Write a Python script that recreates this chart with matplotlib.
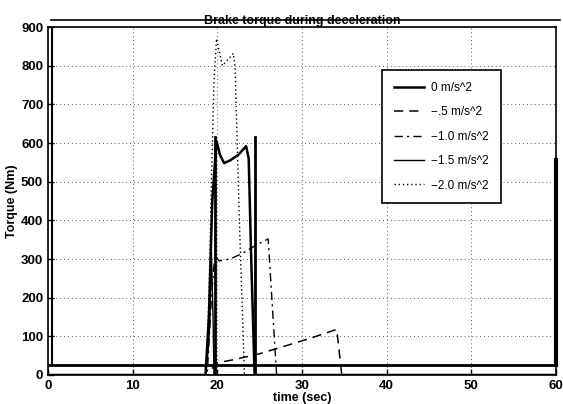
import matplotlib
matplotlib.use('Agg')
import matplotlib.pyplot as plt

plt.rcParams['font.family'] = ['Liberation Sans', 'DejaVu Sans']

# 0 m/s^2 (thick solid)
t_0 = [0, 18.6, 19.0, 19.4, 19.9, 20.3, 20.8, 21.5, 22.5, 23.4, 23.7, 24.0, 24.4, 60]
tq_0 = [0, 0, 150, 450, 605, 570, 548, 555, 570, 592, 560, 300, 0, 0]

# -.5 m/s^2 (dashed)
t_05 = [0, 19.0, 19.7, 22.0, 25.0, 28.0, 31.0, 34.1, 34.7, 60]
tq_05 = [0, 0, 30, 40, 55, 75, 95, 118, 0, 0]

# -1.0 m/s^2 (dash-dot)
t_10 = [0, 18.8, 19.3, 19.7, 20.2, 21.5, 23.0, 24.5, 26.0, 27.0, 60]
tq_10 = [0, 0, 200, 310, 295, 300, 315, 335, 352, 0, 0]

# -1.5 m/s^2 (thin solid)
t_15 = [0, 18.6, 18.9, 19.1, 19.3, 19.5, 19.6, 60]
tq_15 = [0, 0, 60, 130, 320, 140, 0, 0]

# -2.0 m/s^2 (dotted)
t_20 = [0, 18.7, 19.0, 19.3, 19.6, 19.9, 20.2, 20.6, 21.2, 21.9, 22.1, 22.6, 23.2, 60]
tq_20 = [0, 0, 200, 498, 760, 870, 840, 800, 815, 832, 790, 400, 0, 0]

labels = ['0 m/s^2', '\u2212.5 m/s^2', '\u22121.0 m/s^2', '\u22121.5 m/s^2', '\u22122.0 m/s^2']

# stray strokes on the scanned plot
spike_t = [19.7, 24.5]
spike_top = 615
base_level = 25

xticks = [0, 10, 20, 30, 40, 50, 60]
yticks = [0, 100, 200, 300, 400, 500, 600, 700, 800, 900]

fig = plt.figure(figsize=(5.63, 4.04), dpi=100)
ax = fig.add_axes([0.0853, 0.0718, 0.9023, 0.8612])

ax.plot(t_0, tq_0, color='k', lw=1.8, ls='-', label=labels[0])
ax.plot(t_05, tq_05, color='k', lw=1.1, ls=(0, (6, 4)), label=labels[1])
ax.plot(t_10, tq_10, color='k', lw=1.0, ls=(0, (6, 3, 1.5, 3)), label=labels[2])
ax.plot(t_15, tq_15, color='k', lw=1.0, ls='-', label=labels[3])
ax.plot(t_20, tq_20, color='k', lw=1.0, ls=(0, (1, 2)), label=labels[4])

for st in spike_t:
    ax.plot([st, st], [0, spike_top], color='k', lw=2.0)
ax.axhline(base_level, color='k', lw=2.0)
ax.plot([0.5, 0.5], [base_level, 900], color='k', lw=1.5)
ax.plot([60, 60], [base_level, 555], color='k', lw=3.0, clip_on=False)
ax.plot([0.3, 60.5], [918, 918], color='k', lw=1.2, clip_on=False)

ax.set_xlim(0, 60)
ax.set_ylim(0, 900)
ax.set_xticks(xticks)
ax.set_yticks(yticks)
ax.grid(True, color='0.35', ls=(0, (1, 3)), lw=0.7)
ax.tick_params(direction='in', length=4, labelsize=9.5, width=1)
for lab in ax.get_xticklabels() + ax.get_yticklabels():
    lab.set_fontweight('bold')
for sp in ax.spines.values():
    sp.set_linewidth(1.2)

ax.set_title('Brake torque during deceleration', fontsize=9, fontweight='bold', pad=1)
ax.set_xlabel('time (sec)', fontsize=9, fontweight='bold', labelpad=0)
ax.set_ylabel('Torque (Nm)', fontsize=9, fontweight='bold', labelpad=2)

leg = ax.legend(loc='upper left', bbox_to_anchor=(0.657, 0.876), fontsize=8.5,
                frameon=True, fancybox=False, edgecolor='k', framealpha=1,
                labelspacing=1.05, handlelength=2.6, borderpad=1.0,
                handletextpad=0.6, borderaxespad=0)
leg.get_frame().set_linewidth(1.2)

fig.savefig('out.png', dpi=100)
